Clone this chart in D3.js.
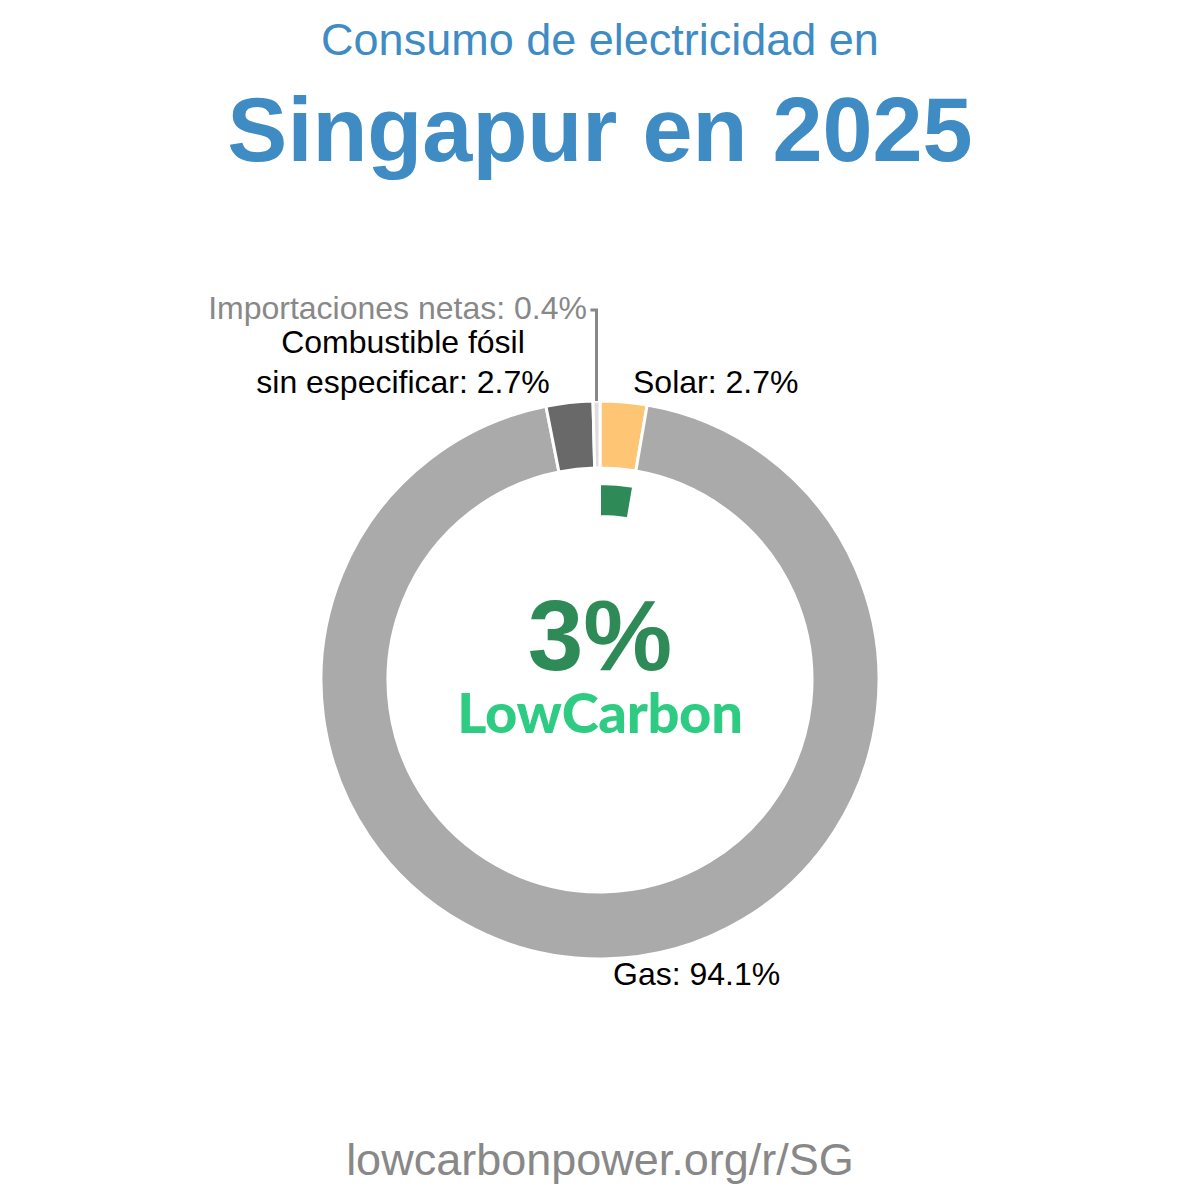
<!DOCTYPE html>
<html><head><meta charset="utf-8">
<script src="https://cdn.jsdelivr.net/npm/d3@7"></script>
<style>body{margin:0;background:#fff;} svg{display:block;}</style>
</head><body>
<svg id="c" width="1200" height="1200"></svg>
<script>
const categories = ["Solar", "Gas", "Combustible fósil sin especificar", "Importaciones netas"];
const values = [2.7, 94.1, 2.7, 0.4];
const colors = ["#fdc574", "#aaaaaa", "#696969", "#dddddd"];
const lowCarbon = [2.7];
const lowCarbonTotal = "3%";

const svg = d3.select("#c");
const font = "'Liberation Sans', Arial, sans-serif";
const cx = 600, cy = 680, rOuter = 279, rInner = 212;

svg.append("text").attr("x", 600).attr("y", 55).attr("text-anchor", "middle")
  .attr("font-family", font).attr("font-size", 45).attr("fill", "#3f8bc4")
  .text("Consumo de electricidad en");
svg.append("text").attr("x", 600).attr("y", 161).attr("text-anchor", "middle")
  .attr("font-family", font).attr("font-size", 90).attr("font-weight", "bold").attr("fill", "#3f8bc4")
  .text("Singapur en 2025");
svg.append("text").attr("x", 600).attr("y", 1175).attr("text-anchor", "middle")
  .attr("font-family", font).attr("font-size", 45).attr("fill", "#888888")
  .text("lowcarbonpower.org/r/SG");

const total = d3.sum(values);
const angle = d3.scaleLinear().domain([0, total]).range([0, 2 * Math.PI]);
const pie = d3.pie().sort(null).value(d => d)(values);
const arc = d3.arc().innerRadius(rInner).outerRadius(rOuter);
const g = svg.append("g").attr("transform", `translate(${cx},${cy})`);
g.selectAll("path.seg").data(pie).join("path").attr("class", "seg")
  .attr("d", arc).attr("fill", (d, i) => colors[i])
  .attr("stroke", "#fff").attr("stroke-width", 3);

// low-carbon inner arc
const lcArc = d3.arc().innerRadius(164).outerRadius(196);
g.append("path").attr("d", lcArc({startAngle: 0, endAngle: angle(lowCarbon[0])}))
  .attr("fill", "#2e8b57").attr("stroke", "#fff").attr("stroke-width", 2);

// labels
function label(lines, x, y, anchor, color) {
  const t = svg.append("text").attr("font-family", font).attr("font-size", 32)
    .attr("fill", color).attr("text-anchor", anchor);
  lines.forEach((l, i) => t.append("tspan").attr("x", x).attr("y", y + i * 40).text(l));
}
// imports leader line
const impMid = (pie[3].startAngle + pie[3].endAngle) / 2;
const lx = cx + Math.sin(impMid) * rOuter, ly = cy - Math.cos(impMid) * rOuter;
svg.append("path").attr("d", `M${lx},${ly} L${lx},310 L${lx - 6},310`)
  .attr("fill", "none").attr("stroke", "#888888").attr("stroke-width", 3);
label([`${categories[3]}: ${values[3]}%`], 587, 319, "end", "#888888");
label(["Combustible fósil", `sin especificar: ${values[2]}%`], 403, 353, "middle", "#000");
label([`${categories[0]}: ${values[0]}%`], 633, 393, "start", "#000");
label([`${categories[1]}: ${values[1]}%`], 613, 985, "start", "#000");

svg.append("text").attr("x", 600).attr("y", 670).attr("text-anchor", "middle")
  .attr("font-family", font).attr("font-size", 100).attr("font-weight", "bold").attr("fill", "#2e8b57")
  .text(lowCarbonTotal);
svg.append("text").attr("x", 600).attr("y", 733).attr("text-anchor", "middle")
  .attr("font-family", "Lato, 'Open Sans', sans-serif").attr("font-size", 56).attr("font-weight", "900")
  .attr("letter-spacing", -0.3).attr("fill", "#2ecc82")
  .text("LowCarbon");
</script>
</body></html>
